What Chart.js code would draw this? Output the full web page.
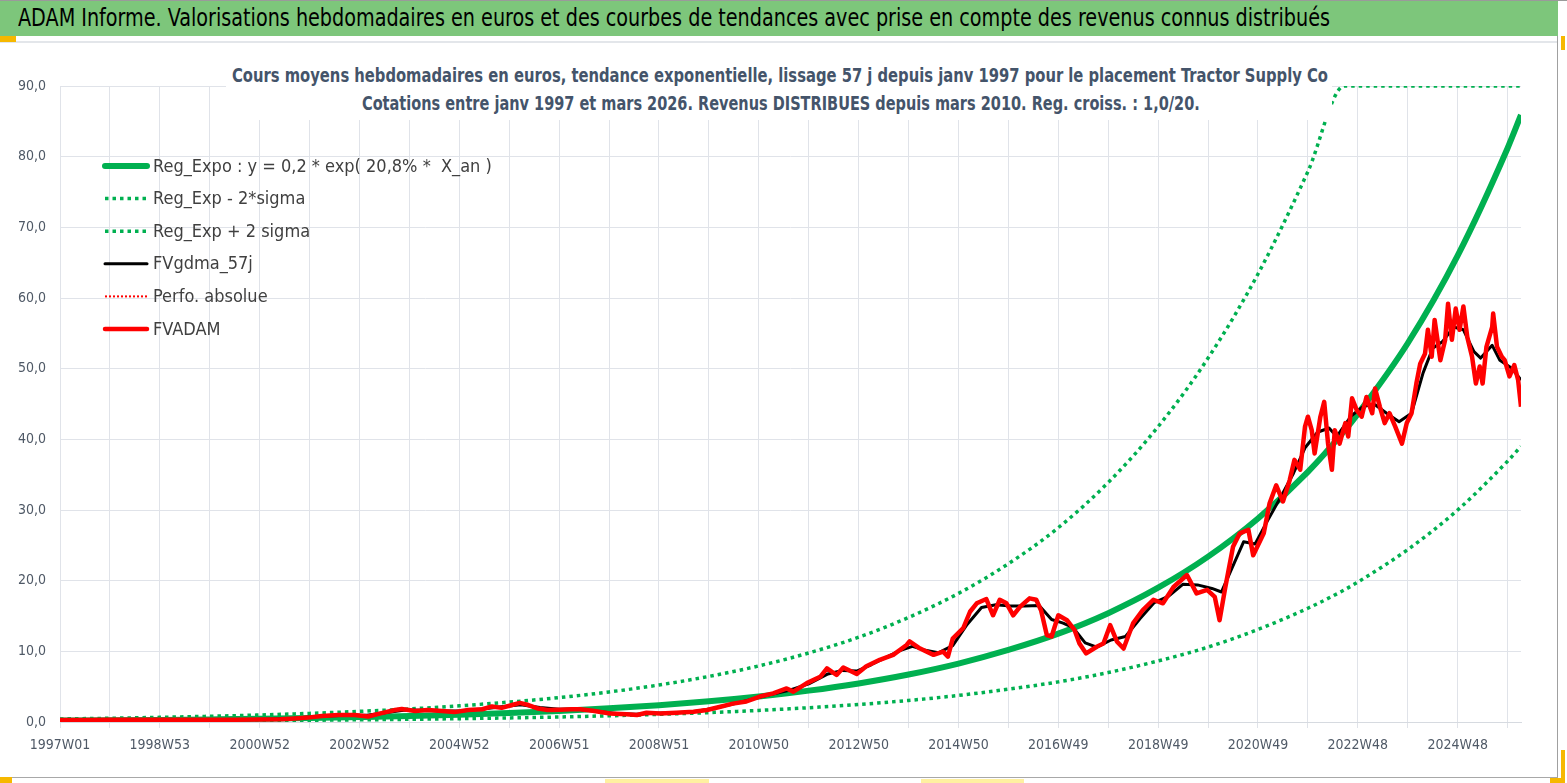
<!DOCTYPE html>
<html lang="fr">
<head>
<meta charset="utf-8">
<title>ADAM Informe - Tractor Supply Co</title>
<script src="https://cdn.jsdelivr.net/npm/chart.js@4.4.1/dist/chart.umd.min.js"></script>
<style>
  html, body { margin: 0; padding: 0; background: #fff; }
  #page {
    position: relative; width: 1567px; height: 783px; overflow: hidden; background: #fff;
    font-family: "Liberation Sans Narrow", "DejaVu Sans Condensed", "Liberation Sans", sans-serif;
  }
  canvas { position: absolute; left: 0; top: 0; }
  #bordHaut { position: absolute; left: 0; top: 0; width: 1567px; height: 1px; background: #9a9a9a; }
  #entete { position: absolute; left: 0; top: 1px; width: 1558px; height: 35px; background: #7dc67b; }
  #entete span {
    position: absolute; left: 18px; top: 2px; font-size: 25px; line-height: 30px; color: #000;
    white-space: nowrap; display: inline-block; transform-origin: left center;
  }
  #sep { position: absolute; left: 0; top: 41px; width: 1558px; height: 2px; background: #e3e6ea; }
  #marqueG { position: absolute; left: 0; top: 36px; width: 16px; height: 6px; background: #f6b800; }
  #marqueGB { position: absolute; left: 0; top: 777px; width: 12px; height: 6px; background: #f6b800; }
  #bordDroit { position: absolute; left: 1557px; top: 36px; width: 1px; height: 742px; background: #a0a0a0; }
  #bordBas { position: absolute; left: 0; top: 777px; width: 1558px; height: 1px; background: #a8a8a8; }
  #coinD1 { position: absolute; left: 1561px; top: 750px; width: 4px; height: 33px; background: #f6b800; }
  #coinD2 { position: absolute; left: 1550px; top: 778px; width: 15px; height: 5px; background: #f6b800; }
  #coinD3 { position: absolute; left: 1561px; top: 36px; width: 4px; height: 14px; background: #f6b800; }
  .jaune { position: absolute; top: 779px; height: 4px; background: #fff0a0; }
  #titre { position: absolute; left: 226px; top: 60px; width: 1106px; height: 60px; background: #fff; }
  .ligneTitre {
    position: absolute; white-space: nowrap;
    color: #44546a; font-weight: bold; font-size: 19px; line-height: 22px;
  }
  .ligneTitre span { position: absolute; left: 0; top: 0; display: inline-block; transform-origin: left center; }
</style>
</head>
<body>
<div id="page">
  <canvas id="graphique" width="1567" height="783"></canvas>
  <div id="titre">
    <div class="ligneTitre" style="left:6px; top:4px;"><span data-largeur="1096">Cours moyens hebdomadaires en euros, tendance exponentielle, lissage 57 j depuis janv 1997 pour le placement Tractor Supply Co</span></div>
    <div class="ligneTitre" style="left:136px; top:32px;"><span data-largeur="838">Cotations entre janv 1997 et mars 2026. Revenus DISTRIBUES depuis mars 2010. Reg. croiss. : 1,0/20.</span></div>
  </div>
  <div id="bordHaut"></div>
  <div id="entete"><span data-largeur="1312">ADAM Informe. Valorisations hebdomadaires en euros et des courbes de tendances avec prise en compte des revenus connus distribués</span></div>
  <div id="sep"></div>
  <div id="marqueG"></div>
  <div id="bordDroit"></div>
  <div id="bordBas"></div>
  <div id="marqueGB"></div>
  <div id="coinD1"></div>
  <div id="coinD2"></div>
  <div id="coinD3"></div>
  <div class="jaune" style="left:605px; width:104px;"></div>
  <div class="jaune" style="left:921px; width:103px;"></div>
</div>
<script>
// Etiquettes de l'axe des semaines (une toutes les 104 semaines)
const etiquettesX = ['1997W01', '1998W53', '2000W52', '2002W52', '2004W52', '2006W51', '2008W51',
  '2010W50', '2012W50', '2014W50', '2016W49', '2018W49', '2020W49', '2022W48', '2024W48'];

// Courbes de tendance (index de semaine depuis 1997W01)
const semainesTendance = [0, 52, 104, 156, 208, 260, 312, 364, 416, 468, 520, 572, 624, 676, 728, 780,
  832, 884, 936, 988, 1040, 1092, 1144, 1196, 1248, 1300, 1338, 1352, 1404, 1456, 1508, 1522];
const regExpo = [0.20, 0.24, 0.30, 0.37, 0.45, 0.56, 0.69, 0.84, 1.04, 1.28, 1.57, 1.93, 2.38, 2.93, 3.61, 4.44,
  5.46, 6.72, 8.27, 10.2, 12.5, 15.4, 19.0, 23.4, 28.8, 35.4, 41.2, 43.6, 53.6, 66.0, 81.2, 85.9];
const regMoins2Sigma = [0.09, 0.11, 0.14, 0.17, 0.21, 0.25, 0.31, 0.38, 0.47, 0.58, 0.71, 0.88, 1.08, 1.33, 1.64, 2.02,
  2.48, 3.05, 3.76, 4.64, 5.68, 7.0, 8.64, 10.6, 13.1, 16.1, 18.7, 19.8, 24.4, 30.0, 36.9, 39.0];
const regPlus2Sigma = [0.43, 0.53, 0.66, 0.81, 0.99, 1.22, 1.51, 1.85, 2.29, 2.82, 3.45, 4.25, 5.24, 6.45, 7.94, 9.77,
  12.0, 14.8, 18.2, 22.4, 27.5, 33.9, 41.8, 51.5, 63.4, 77.9, 90, 90, 90, 90, 90, 90];

// FVADAM : valorisation hebdomadaire
const semainesADAM = [0, 26, 52, 78, 104, 130, 156, 182, 208, 230, 245, 258, 273, 290, 307, 321, 335, 349, 356, 370,
  383, 398, 411, 425, 440, 450, 460, 471, 479, 488, 498, 508, 521, 533, 542, 555, 573, 590, 601, 611,
  625, 642, 660, 674, 688, 701, 715, 729, 743, 757, 764, 778, 792, 799, 809, 816, 830, 840, 854, 868,
  882, 885, 896, 910, 920, 925, 930, 941, 948, 955, 965, 972, 979, 986, 993, 1000, 1010, 1017, 1022, 1028,
  1033, 1040, 1049, 1057, 1062, 1069, 1080, 1087, 1094, 1101, 1108, 1118, 1128, 1139, 1149, 1160, 1174, 1184, 1195, 1203,
  1208, 1214, 1222, 1229, 1238, 1243, 1254, 1260, 1267, 1274, 1281, 1286, 1292, 1297, 1300, 1304, 1307, 1313, 1317, 1321,
  1325, 1328, 1333, 1339, 1342, 1346, 1351, 1356, 1361, 1367, 1370, 1375, 1380, 1385, 1391, 1398, 1403, 1408, 1413, 1417,
  1422, 1425, 1429, 1432, 1438, 1443, 1446, 1450, 1454, 1458, 1462, 1466, 1471, 1475, 1479, 1482, 1486, 1492, 1493, 1497,
  1502, 1505, 1510, 1515, 1519, 1522];
const fvadam = [0.30, 0.30, 0.31, 0.31, 0.32, 0.32, 0.33, 0.33, 0.35, 0.40, 0.50, 0.62, 0.85, 1.00, 1.00, 0.78, 1.25, 1.70, 1.85, 1.55,
  1.70, 1.55, 1.40, 1.70, 1.80, 2.20, 2.00, 2.40, 2.70, 2.40, 1.90, 1.70, 1.75, 1.80, 1.80, 1.60, 1.20, 1.10, 1.00, 1.30,
  1.20, 1.30, 1.45, 1.70, 2.15, 2.60, 2.90, 3.60, 4.05, 4.75, 4.30, 5.50, 6.40, 7.60, 6.65, 7.70, 6.80, 7.90, 8.80, 9.50,
  10.9, 11.4, 10.4, 9.50, 9.95, 9.25, 11.8, 13.3, 15.6, 16.8, 17.4, 15.1, 17.3, 16.8, 15.1, 16.3, 17.5, 17.3, 15.8, 12.3,
  12.1, 15.1, 14.4, 13.0, 11.1, 9.70, 10.65, 11.1, 13.7, 11.4, 10.4, 14.0, 15.85, 17.3, 16.8, 19.1, 20.8, 18.2, 18.7, 17.7,
  14.4, 19.1, 24.8, 26.7, 27.2, 23.6, 26.7, 30.9, 33.5, 31.2, 34.2, 37.1, 35.7, 41.8, 43.2, 41.3, 38.0, 43.2, 45.3, 39.4,
  35.7, 41.3, 39.4, 42.3, 40.4, 45.8, 44.1, 43.2, 46.0, 43.7, 47.2, 44.6, 42.3, 43.7, 41.8, 39.4, 42.3, 43.7, 47.9, 50.7,
  52.1, 55.5, 51.7, 56.9, 51.2, 54.1, 59.2, 54.1, 58.5, 55.5, 58.8, 54.5, 51.7, 47.9, 50.3, 47.9, 53.1, 55.9, 57.8, 53.1,
  51.7, 51.2, 48.9, 50.5, 48.4, 44.6];

// FVgdma_57j : moyenne lissee
const semainesLisse = [0, 52, 104, 156, 208, 240, 270, 300, 320, 340, 360, 380, 400, 420, 440, 460, 480, 500, 520, 540,
  560, 580, 600, 620, 640, 660, 680, 700, 720, 740, 760, 780, 800, 815, 830, 845, 860, 875, 888, 900,
  915, 930, 945, 960, 975, 990, 1005, 1020, 1033, 1045, 1055, 1068, 1080, 1095, 1110, 1125, 1140, 1155, 1170, 1185,
  1200, 1210, 1220, 1233, 1245, 1258, 1272, 1285, 1297, 1310, 1322, 1330, 1345, 1358, 1370, 1382, 1395, 1408, 1420, 1430,
  1440, 1452, 1462, 1473, 1480, 1492, 1500, 1512, 1522];
const fvgdma = [0.30, 0.31, 0.32, 0.33, 0.35, 0.45, 0.80, 0.95, 0.95, 1.35, 1.70, 1.65, 1.55, 1.60, 1.85, 2.15, 2.45, 2.05, 1.80, 1.80,
  1.50, 1.20, 1.10, 1.25, 1.30, 1.45, 1.90, 2.50, 3.20, 3.90, 4.50, 5.40, 6.80, 7.30, 7.20, 8.10, 9.10, 10.1, 10.7, 10.2,
  9.80, 10.8, 13.8, 16.2, 16.6, 16.4, 16.4, 16.5, 14.5, 14.0, 13.4, 11.2, 10.6, 11.6, 12.1, 14.6, 16.9, 17.8, 19.5, 19.4,
  18.9, 18.4, 21.5, 25.5, 25.2, 28.5, 31.9, 35.2, 38.8, 41.0, 41.6, 40.4, 43.3, 44.7, 44.9, 43.7, 42.5, 43.7, 49.4, 52.9,
  53.8, 55.9, 55.5, 52.4, 51.5, 53.3, 51.2, 50.1, 48.4];

// Perfo. absolue : aucune trace visible sur l'image
const perfoAbsolue = [];

const POLICE = '"Liberation Sans Narrow", "DejaVu Sans Condensed", "Liberation Sans", sans-serif';
const VERT = '#00b050';
const GRILLE = '#e0e3e9';

function points(xs, ys) {
  return xs.map((x, i) => ({ x: x, y: ys[i] }));
}

// Legende dessinee a l'interieur de la zone de trace, comme dans Excel
const legendeInterne = {
  id: 'legendeInterne',
  afterDraw(chart) {
    const ctx = chart.ctx;
    ctx.save();
    ctx.font = '18px ' + POLICE;
    ctx.textBaseline = 'middle';
    chart.data.datasets.forEach((ds, i) => {
      const y = 166 + i * 32.6;
      ctx.beginPath();
      ctx.strokeStyle = ds.borderColor;
      ctx.lineWidth = ds.borderWidth;
      ctx.setLineDash(ds.borderDash || []);
      ctx.lineCap = ds.borderDash ? 'butt' : 'round';
      ctx.moveTo(105, y);
      ctx.lineTo(147, y);
      ctx.stroke();
      ctx.setLineDash([]);
      ctx.fillStyle = '#404040';
      ctx.fillText(ds.label, 153, y + 1);
    });
    ctx.restore();
  }
};

function dessiner() {
  const ctx = document.getElementById('graphique').getContext('2d');
  new Chart(ctx, {
    type: 'line',
    data: {
      datasets: [
        {
          label: 'Reg_Expo : y = 0,2 * exp( 20,8% *  X_an )',
          data: points(semainesTendance, regExpo),
          borderColor: VERT, borderWidth: 6, cubicInterpolationMode: 'monotone', order: 5
        },
        {
          label: 'Reg_Exp - 2*sigma',
          data: points(semainesTendance, regMoins2Sigma),
          borderColor: VERT, borderWidth: 3.5, borderDash: [3.5, 4], cubicInterpolationMode: 'monotone', order: 6
        },
        {
          label: 'Reg_Exp + 2 sigma',
          data: points(semainesTendance, regPlus2Sigma),
          borderColor: VERT, borderWidth: 3.5, borderDash: [3.5, 4], cubicInterpolationMode: 'monotone', order: 6
        },
        {
          label: 'FVgdma_57j',
          data: points(semainesLisse, fvgdma),
          borderColor: '#000000', borderWidth: 3, order: 2
        },
        {
          label: 'Perfo. absolue',
          data: perfoAbsolue,
          borderColor: '#ff0000', borderWidth: 2, borderDash: [2, 2], order: 3
        },
        {
          label: 'FVADAM',
          data: points(semainesADAM, fvadam),
          borderColor: '#ff0000', borderWidth: 4.5, order: 1
        }
      ]
    },
    options: {
      responsive: false,
      animation: false,
      events: [],
      elements: {
        point: { radius: 0 },
        line: { fill: false, borderJoinStyle: 'round', tension: 0 }
      },
      layout: { padding: { top: 86, right: 46, bottom: 0, left: 0 } },
      plugins: {
        legend: { display: false },
        title: { display: false },
        tooltip: { enabled: false }
      },
      scales: {
        x: {
          type: 'linear',
          min: 0,
          max: 1522,
          afterFit: (scale) => { scale.height = 61; },
          grid: { color: GRILLE, lineWidth: 1, drawTicks: true, tickLength: 6 },
          border: { display: true, color: '#d6dae0' },
          ticks: {
            stepSize: 52,
            autoSkip: false,
            includeBounds: false,
            maxRotation: 0,
            padding: 9,
            color: '#4f5966',
            font: { family: POLICE, size: 14 },
            callback: (v) => {
              const s = Math.round(v);
              return s % 104 === 0 ? etiquettesX[s / 104] : '';
            }
          }
        },
        y: {
          min: 0,
          max: 90,
          afterFit: (scale) => { scale.width = 60; },
          grid: { color: GRILLE, lineWidth: 1, drawTicks: false },
          border: { display: false },
          ticks: {
            stepSize: 10,
            padding: 14,
            color: '#4f5966',
            font: { family: POLICE, size: 14 },
            callback: (v) => v.toFixed(1).replace('.', ',')
          }
        }
      }
    },
    plugins: [legendeInterne]
  });
}

// Ajuste la largeur des textes HTML a celle de l'original (offsetWidth ignore la transformation)
function ajusterTextes() {
  document.querySelectorAll('[data-largeur]').forEach((el) => {
    const w = el.offsetWidth;
    const cible = parseFloat(el.dataset.largeur);
    if (w > 0) el.style.transform = 'scaleX(' + (cible / w).toFixed(4) + ')';
  });
}

document.addEventListener('DOMContentLoaded', () => {
  ajusterTextes();
  dessiner();
  if (document.fonts && document.fonts.ready) {
    document.fonts.ready.then(ajusterTextes);
  }
});
</script>
</body>
</html>
